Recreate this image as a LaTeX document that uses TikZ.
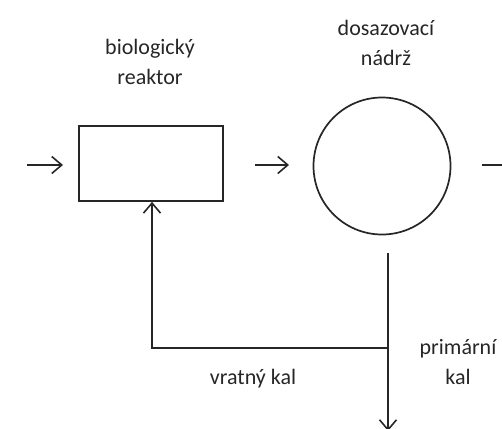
\documentclass[tikz,border=0pt]{standalone}
\usepackage{fontspec}
\setmainfont{Carlito}
\usetikzlibrary{arrows.meta}
\begin{document}
\begin{tikzpicture}[x=1pt,y=-1pt,
  line/.style={draw=black!85,line width=1.7pt},
  flow/.style={line,-{Straight Barb[length=10pt,width=17pt,line width=1.6pt]}},
  lbl/.style={font=\fontsize{22}{30}\selectfont,text=black!85,align=center,inner sep=0pt}]
\useasboundingbox (0,0) rectangle (502,428);
\clip (0,0) rectangle (502,428);
\node[line,rectangle,minimum width=144pt,minimum height=75pt,inner sep=0pt] (reactor) at (151,163.5) {};
\node[line,circle,minimum size=137pt,inner sep=0pt] (tank) at (382,166) {};
\coordinate (inA) at (27,165);
\coordinate (inB) at (63,165);
\coordinate (midA) at (255,165);
\coordinate (midB) at (289,165);
\coordinate (outA) at (482,165);
\coordinate (outB) at (530,165);
\coordinate (top) at (388,253);
\coordinate (split) at (388,348);
\coordinate (bottom) at (388,431);
\coordinate (corner) at (152,348);
\draw[flow] (inA) -- (inB);
\draw[flow] (midA) -- (midB);
\draw[flow] (outA) -- (outB);
\draw[flow] (top) -- (bottom);
\draw[flow] (split) -- (corner) -- (reactor.south -| corner);
\node[lbl] (l1) at (150,62) {biologický\\reaktor};
\node[lbl] (l2) at (386,43) {dosazovací\\nádrž};
\node[lbl] (l3) at (253,379) {vratný kal};
\node[lbl] (l4) at (458,362) {primární\\kal};
\end{tikzpicture}
\end{document}
